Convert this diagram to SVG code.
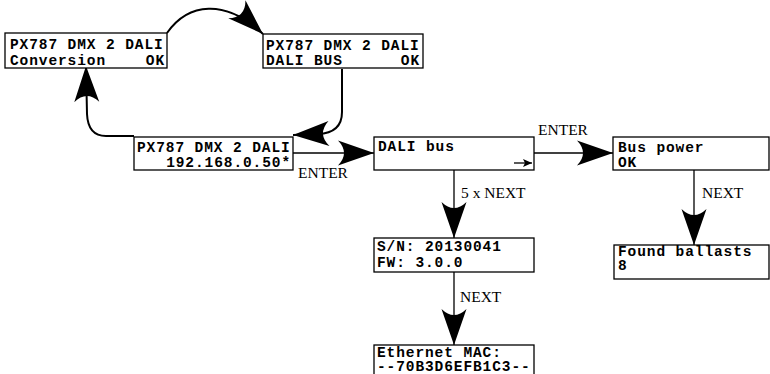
<svg xmlns="http://www.w3.org/2000/svg" width="770" height="374" viewBox="0 0 770 374">
<style>
.box{fill:#fff;stroke:#000;stroke-width:1.3}
.t{font-family:"Liberation Mono","Courier New",monospace;font-weight:bold;font-size:14.5px;letter-spacing:0.9px;fill:#000}
.l{font-family:"Liberation Serif","Times New Roman",serif;font-size:15.5px;fill:#000}
.c{fill:none;stroke:#000;stroke-width:1.3}
.cv{fill:none;stroke:#000;stroke-width:2}
</style>
<defs>
<marker id="ah" markerUnits="userSpaceOnUse" markerWidth="42" markerHeight="32" viewBox="-40 -16 42 32" refX="0" refY="0" orient="auto" overflow="visible">
<path d="M0,0 L-36,-12.5 Q-24,0 -36,12.5 Z" fill="#000"/>
</marker>
<marker id="sm" markerUnits="userSpaceOnUse" markerWidth="12" markerHeight="10" viewBox="-10 -5 12 10" refX="0" refY="0" orient="auto">
<path d="M0,0 L-9,-4 L-7,0 L-9,4 Z" fill="#000"/>
</marker>
</defs>
<g id="connectors">
<path class="cv" d="M167,33 C188,3 225,-2 263,34" marker-end="url(#ah)"/>
<path class="cv" d="M342,69 L342,112 Q342,133 318,134 L293,135" marker-end="url(#ah)"/>
<path class="cv" d="M134,136 L106,136 Q88,136 87,114 L86,66" marker-end="url(#ah)"/>
<path class="c" d="M293,153 L374,153" marker-end="url(#ah)"/>
<path class="c" d="M534,153 L613,153" marker-end="url(#ah)"/>
<path class="c" d="M454,170 L454,238" marker-end="url(#ah)"/>
<path class="c" d="M694,170 L694,245" marker-end="url(#ah)"/>
<path class="c" d="M454,272 L454,345" marker-end="url(#ah)"/>
<text class="l" x="298" y="178">ENTER</text>
<text class="l" x="538" y="135">ENTER</text>
<text class="l" x="461" y="198">5 x NEXT</text>
<text class="l" x="702" y="198">NEXT</text>
<text class="l" x="460" y="302">NEXT</text>
</g>
<g id="n1">
<rect class="box" x="5" y="33" width="162" height="35"/>
<text class="t" x="10" y="49">PX787 DMX 2 DALI</text>
<text class="t" x="10" y="65">Conversion</text>
<text class="t" x="165" y="65" text-anchor="end">OK</text>
</g>
<g id="n2">
<rect class="box" x="263" y="34" width="160" height="34"/>
<text class="t" x="266" y="50">PX787 DMX 2 DALI</text>
<text class="t" x="266" y="65">DALI BUS</text>
<text class="t" x="420" y="65" text-anchor="end">OK</text>
</g>
<g id="n3">
<rect class="box" x="134" y="137" width="159" height="33"/>
<text class="t" x="137" y="152">PX787 DMX 2 DALI</text>
<text class="t" x="291" y="167" text-anchor="end">192.168.0.50*</text>
</g>
<g id="n4">
<rect class="box" x="374" y="137" width="160" height="33"/>
<text class="t" x="378" y="151">DALI bus</text>
<path class="c" d="M514,163 L532,163" marker-end="url(#sm)"/>
</g>
<g id="n5">
<rect class="box" x="613" y="137" width="156" height="33"/>
<text class="t" x="618" y="152">Bus power</text>
<text class="t" x="618" y="167">OK</text>
</g>
<g id="n6">
<rect class="box" x="374" y="238" width="160" height="34"/>
<text class="t" x="377" y="251">S/N: 20130041</text>
<text class="t" x="377" y="267">FW: 3.0.0</text>
</g>
<g id="n7">
<rect class="box" x="614" y="245" width="155" height="34"/>
<text class="t" x="618" y="256">Found ballasts</text>
<text class="t" x="618" y="270">8</text>
</g>
<g id="n8">
<rect class="box" x="374" y="345" width="160" height="34"/>
<text class="t" x="377" y="357">Ethernet MAC:</text>
<text class="t" x="377" y="371">--70B3D6EFB1C3--</text>
</g>
</svg>
